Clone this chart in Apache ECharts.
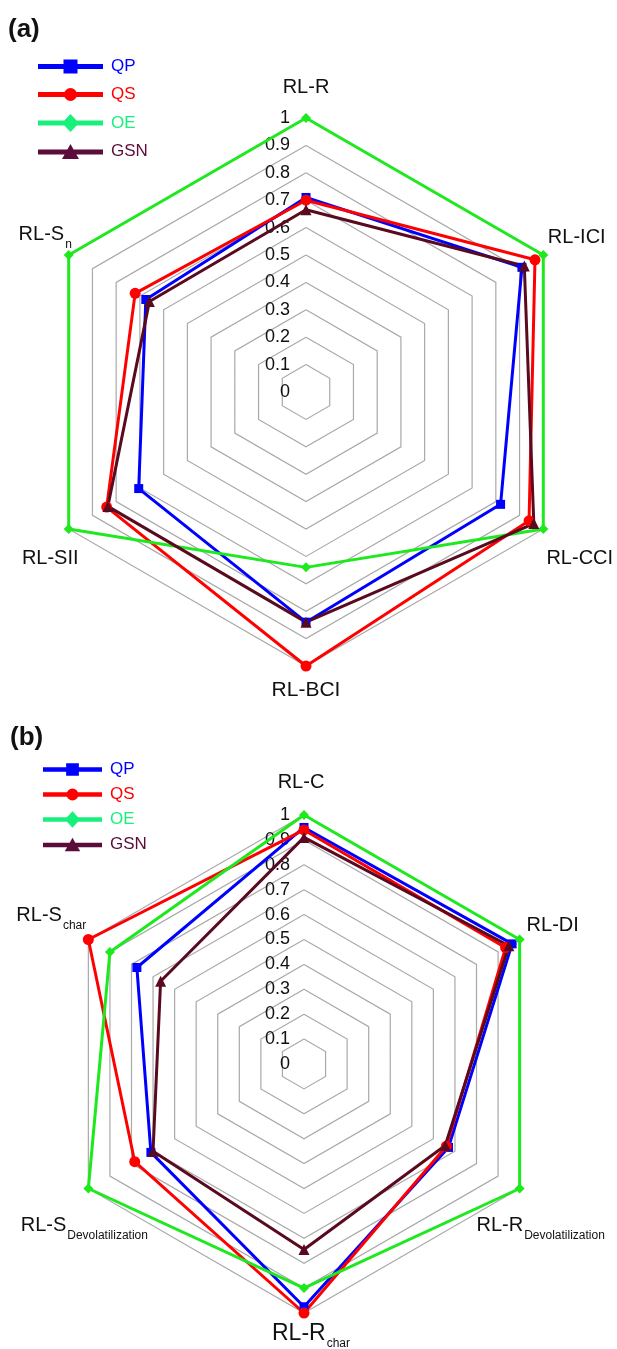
<!DOCTYPE html>
<html>
<head>
<meta charset="utf-8">
<title>Radar comparison (a) / (b)</title>
<script src="https://cdn.jsdelivr.net/npm/echarts@6/dist/echarts.min.js"></script>
<style>
  html, body { margin: 0; padding: 0; background: #fff; }
  #chart { width: 617px; height: 1349px; }
</style>
</head>
<body>
<div id="chart"></div>
<script>
// indicator order = echarts radar order (top first, then counter-clockwise)
// "_" marks a subscript in the axis name
const axesA = ['RL-R', 'RL-S_n', 'RL-SII', 'RL-BCI', 'RL-CCI', 'RL-ICI']
const qpA = [0.71, 0.675, 0.705, 0.84, 0.82, 0.91]
const qsA = [0.70, 0.72, 0.84, 1.0, 0.94, 0.965]
const oeA = [1, 1, 1, 0.64, 1, 1]
const gsnA = [0.665, 0.66, 0.835, 0.84, 0.96, 0.92]

const axesB = ['RL-C', 'RL-S_char', 'RL-S_Devolatilization', 'RL-R_char', 'RL-R_Devolatilization', 'RL-DI']
const qpB = [0.95, 0.775, 0.71, 0.975, 0.67, 0.965]
const qsB = [0.94, 1.0, 0.785, 1.0, 0.66, 0.935]
const oeB = [1, 0.90, 1, 0.90, 1, 1]
const gsnB = [0.91, 0.665, 0.70, 0.745, 0.655, 0.95]

const seriesNames = ['QP', 'QS', 'OE', 'GSN']
const tickMin = 0
const tickMax = 1
const tickStep = 0.1

const FONT = '"Liberation Sans", Arial, Helvetica, sans-serif'
const lineColors = { QP: '#0000ff', QS: '#ff0000', OE: '#1ee81e', GSN: '#5a0a1e' }
const legendColors = { QP: '#0000ff', QS: '#ff0000', OE: '#18f07c', GSN: '#5c0c38' }
const symbols = { QP: 'rect', QS: 'circle', OE: 'diamond', GSN: 'triangle' }
const symbolSizes = { QP: 9, QS: 11, OE: 10, GSN: 11 }
// legend icons: thick line with the marker in the middle (65 x 20 box)
const legendIcons = {
  QP: 'path://M0,7.5 L25.5,7.5 L25.5,3 L39.5,3 L39.5,7.5 L65,7.5 L65,12.5 L39.5,12.5 L39.5,17 L25.5,17 L25.5,12.5 L0,12.5 Z',
  QS: 'path://M0,7.5 L28,7.5 L28,12.5 L0,12.5 Z M26,10 A6.5,6.5 0 1,1 39,10 A6.5,6.5 0 1,1 26,10 Z M37,7.5 L65,7.5 L65,12.5 L37,12.5 Z',
  OE: 'path://M0,7.5 L26.4,7.5 L32.5,1 L38.6,7.5 L65,7.5 L65,12.5 L38.6,12.5 L32.5,19 L26.4,12.5 L0,12.5 Z',
  GSN: 'path://M0,7.5 L29.4,7.5 L32.5,2 L35.6,7.5 L65,7.5 L65,12.5 L38.4,12.5 L41,17 L24,17 L26.6,12.5 L0,12.5 Z'
}

const panels = [
  { axes: axesA, values: [qpA, qsA, oeA, gsnA], cx: 306, cy: 392, r: 274, nameDist: 1.12, bottomFont: 21,
    // small per-label nudges [dx, dy] so names sit like in the original figure
    nudge: [[0, 2], [5, -4], [10, 13], [0, -9], [8, 13], [5, -1]],
    tag: '(a)', tagX: 8, tagY: 30, legendLeft: 33, legendTop: 53, legendW: 65, legendGap: 11, tickMargin: 16 },
  { axes: axesB, values: [qpB, qsB, oeB, gsnB], cx: 304, cy: 1064, r: 249, nameDist: 1.13, bottomFont: 23,
    nudge: [[-3, 0], [-9, -8], [24, 21], [7, -12], [-7, 21], [5, 2]],
    tag: '(b)', tagX: 10, tagY: 738, legendLeft: 38, legendTop: 756, legendW: 59, legendGap: 8, tickMargin: 14 }
]

function nameLabels(p) {
  const n = p.axes.length
  return p.axes.map(function(label, i) {
    const ang = Math.PI / 2 + i * 2 * Math.PI / n
    const parts = label.split('_')
    const isBottom = Math.sin(ang) < -0.99
    const text = parts[1] ? '{m|' + parts[0] + '}{s|' + parts[1] + '}' : '{m|' + parts[0] + '}'
    return {
      type: 'text',
      x: p.cx + Math.cos(ang) * p.r * p.nameDist + p.nudge[i][0],
      y: p.cy - Math.sin(ang) * p.r * p.nameDist + p.nudge[i][1],
      style: {
        text: text,
        align: 'center',
        verticalAlign: 'middle',
        rich: {
          m: { fontSize: isBottom ? p.bottomFont : 20, fontFamily: FONT, fill: '#111', lineHeight: 24 },
          s: { fontSize: 12, fontFamily: FONT, fill: '#111', lineHeight: 12, padding: [20, 0, 0, 1] }
        }
      }
    }
  })
}

const chart = echarts.init(document.getElementById('chart'))

const graphics = []
panels.forEach(function(p) {
  graphics.push({
    type: 'text', x: p.tagX, y: p.tagY,
    style: { text: p.tag, fontSize: 26, fontWeight: 'bold', fontFamily: FONT, fill: '#111', verticalAlign: 'middle' }
  })
  nameLabels(p).forEach(function(g) { graphics.push(g) })
})

chart.setOption({
  animation: false,
  backgroundColor: '#fff',
  radar: panels.map(function(p) {
    return {
      center: [p.cx, p.cy],
      radius: p.r,
      startAngle: 90,
      splitNumber: 10,
      shape: 'polygon',
      indicator: p.axes.map(function(a) { return { name: a, min: tickMin, max: tickMax } }),
      axisName: { show: false },
      axisLine: { show: false },
      axisTick: { show: false },
      axisLabel: { show: false },
      splitLine: { lineStyle: { color: '#a9a9a9', width: 1.2 } },
      splitArea: { show: false }
    }
  }),
  // value ticks drawn beside the top axis of each radar
  grid: panels.map(function(p) {
    return { left: p.cx, top: p.cy - p.r, width: 10, height: p.r }
  }),
  xAxis: panels.map(function(p, i) {
    return { gridIndex: i, type: 'value', show: false }
  }),
  yAxis: panels.map(function(p, i) {
    return {
      gridIndex: i,
      type: 'value',
      min: tickMin,
      max: tickMax,
      interval: tickStep,
      axisLine: { show: false },
      axisTick: { show: false },
      splitLine: { show: false },
      axisLabel: { margin: p.tickMargin, fontSize: 18, color: '#111', fontFamily: FONT }
    }
  }),
  legend: panels.map(function(p) {
    return {
      orient: 'vertical',
      left: p.legendLeft,
      top: p.legendTop,
      itemWidth: p.legendW,
      itemHeight: 20,
      itemGap: p.legendGap,
      selectedMode: false,
      textStyle: { fontSize: 17, fontFamily: FONT, padding: [0, 0, 0, 3] },
      data: seriesNames.map(function(n) {
        return {
          name: n,
          icon: legendIcons[n],
          itemStyle: { color: legendColors[n], borderWidth: 0 },
          textStyle: { color: legendColors[n] }
        }
      })
    }
  }),
  series: panels.map(function(p, i) {
    return {
      type: 'radar',
      radarIndex: i,
      data: seriesNames.map(function(n, k) {
        return {
          name: n,
          value: p.values[k],
          symbol: symbols[n],
          symbolSize: symbolSizes[n],
          itemStyle: { color: lineColors[n] },
          lineStyle: { color: lineColors[n], width: 3 }
        }
      })
    }
  }),
  graphic: graphics
})
</script>
</body>
</html>
